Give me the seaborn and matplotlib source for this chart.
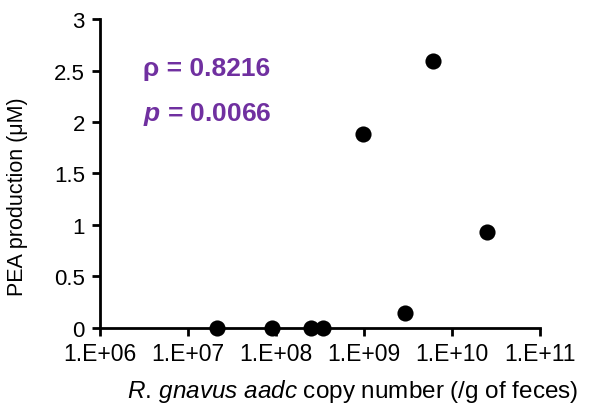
import matplotlib
matplotlib.use("Agg")
import matplotlib.pyplot as plt
import seaborn as sns
import pandas as pd
from matplotlib.ticker import FixedLocator, NullLocator

copy_number = [2.1e7, 9.0e7, 2.5e8, 3.4e8, 9.7e8, 2.9e9, 6.0e9, 2.5e10]
pea = [0.0, 0.0, 0.0, 0.0, 1.88, 0.14, 2.59, 0.93]
x_ticks = [1e6, 1e7, 1e8, 1e9, 1e10, 1e11]
x_labels = ["1.E+06", "1.E+07", "1.E+08", "1.E+09", "1.E+10", "1.E+11"]
y_ticks = [0, 0.5, 1, 1.5, 2, 2.5, 3]
y_labels = ["0", "0.5", "1", "1.5", "2", "2.5", "3"]
rho_text = "ρ = 0.8216"
p_text = r"$\mathbfit{p}$ = 0.0066"

sns.set_style("ticks")
plt.rcParams["font.family"] = ["Liberation Sans", "DejaVu Sans"]
plt.rcParams["text.color"] = "black"
plt.rcParams["axes.labelcolor"] = "black"
plt.rcParams["mathtext.fontset"] = "custom"
plt.rcParams["mathtext.rm"] = "Liberation Sans"
plt.rcParams["mathtext.it"] = "Liberation Sans:italic"
plt.rcParams["mathtext.bf"] = "Liberation Sans:bold"
plt.rcParams["mathtext.bfit"] = "Liberation Sans:bold:italic"

df = pd.DataFrame({"copy": copy_number, "pea": pea})

fig = plt.figure(figsize=(6.07, 4.10), dpi=100)
ax = fig.add_axes([0.165, 0.198, 0.725, 0.753])
sns.scatterplot(data=df, x="copy", y="pea", ax=ax, s=135, color="black",
                edgecolor="black", linewidth=0, zorder=3, clip_on=False)
ax.set_xscale("log")
ax.set_xlim(1e6, 1e11)
ax.set_ylim(0, 3)
ax.xaxis.set_major_locator(FixedLocator(x_ticks))
ax.xaxis.set_minor_locator(NullLocator())
ax.set_xticks(x_ticks)
ax.set_xticklabels(x_labels)
ax.set_yticks(y_ticks)
ax.set_yticklabels(y_labels)
for s in ["top", "right"]:
    ax.spines[s].set_visible(False)
for s in ["left", "bottom"]:
    ax.spines[s].set_linewidth(2)
    ax.spines[s].set_color("black")
ax.tick_params(axis="x", direction="out", length=6, width=2, labelsize=16.5,
               colors="black", pad=4)
ax.tick_params(axis="y", direction="out", length=6, width=2, labelsize=16,
               colors="black", pad=5)
ax.set_xlabel(r"$\it{R.\,gnavus}$ $\it{aadc}$ copy number (/g of feces)",
              fontsize=17.5, color="black")
ax.set_ylabel("PEA production (μM)", fontsize=15.5, color="black")
ax.xaxis.set_label_coords(0.573, -0.16)
ax.yaxis.set_label_coords(-0.165, 0.427)

purple = "#7030A0"
ax.text(0.098, 0.84, rho_text, transform=ax.transAxes, color=purple,
        fontsize=19, fontweight="bold", va="center", ha="left")
ax.text(0.098, 0.695, p_text, transform=ax.transAxes, color=purple,
        fontsize=19, fontweight="bold", va="center", ha="left")

fig.savefig("out.png", dpi=100)
